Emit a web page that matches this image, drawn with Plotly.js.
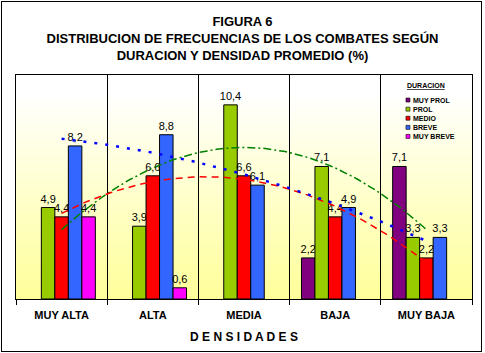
<!DOCTYPE html>
<html>
<head>
<meta charset="utf-8">
<script src="https://cdn.plot.ly/plotly-3.0.1.min.js"></script>
<style>
  html, body { margin: 0; padding: 0; background: #fff; }
  #wrap { position: relative; width: 485px; height: 353px; }
  #chart { position: absolute; left: 0; top: 0; width: 485px; height: 353px; }
  #frame { position: absolute; left: 1px; top: 1px; width: 481px; height: 351px;
           box-sizing: border-box; border: 1px solid #000; pointer-events: none; }
</style>
</head>
<body>
<div id="wrap"><div id="chart"></div><div id="frame"></div></div>
<script>
// ---- data ----
const categories = ['MUY ALTA', 'ALTA', 'MEDIA', 'BAJA', 'MUY BAJA'];
const seriesNames = ['MUY PROL', 'PROL', 'MEDIO', 'BREVE', 'MUY BREVE'];
const muyProl  = [null, null, null, 2.2, 7.1];
const prol     = [4.9, 3.9, 10.4, 7.1, 3.3];
const medio    = [4.4, 6.6, 6.6, 4.4, 2.2];
const breve    = [8.2, 8.8, 6.1, 4.9, 3.3];
const muyBreve = [4.4, 0.6, null, null, null];
const seriesValues = [muyProl, prol, medio, breve, muyBreve];
const seriesColors = ['#800080', '#99CC00', '#FF0000', '#3366FF', '#FF00FF'];
const legendTitle = 'DURACION';
const chartTitle = 'FIGURA 6<br>DISTRIBUCION DE FRECUENCIAS DE LOS COMBATES SEGÚN<br>DURACION Y DENSIDAD PROMEDIO (%)';
const xTitle = 'D E N S I D A D E S';

// polynomial (order 2) trendlines, as in the original spreadsheet chart
const trendSeries = [
  { values: prol,  color: '#008000', dash: '8px,3px,2px,3px', width: 1.5 },
  { values: medio, color: '#FF0000', dash: '7px,5px', width: 1.5 },
  { values: breve, color: '#0000FF', dash: '3px,8px', width: 2.5 }
];

const xs = categories.map((_, i) => i);

function quadFit(x, y) {
  // least squares y = a + b x + c x^2
  const S = [[0,0,0],[0,0,0],[0,0,0]], T = [0,0,0];
  for (let i = 0; i < x.length; i++) {
    if (y[i] == null) continue;
    const p = [1, x[i], x[i]*x[i]];
    for (let r = 0; r < 3; r++) {
      T[r] += p[r]*y[i];
      for (let c = 0; c < 3; c++) S[r][c] += p[r]*p[c];
    }
  }
  const M = S.map((row, r) => row.concat([T[r]]));
  for (let k = 0; k < 3; k++) {
    let piv = k;
    for (let r = k+1; r < 3; r++) if (Math.abs(M[r][k]) > Math.abs(M[piv][k])) piv = r;
    [M[k], M[piv]] = [M[piv], M[k]];
    for (let r = k+1; r < 3; r++) {
      const f = M[r][k]/M[k][k];
      for (let c = k; c < 4; c++) M[r][c] -= f*M[k][c];
    }
  }
  const sol = [0,0,0];
  for (let r = 2; r >= 0; r--) {
    let s = M[r][3];
    for (let c = r+1; c < 3; c++) s -= M[r][c]*sol[c];
    sol[r] = s/M[r][r];
  }
  return sol;
}

const traces = [];
seriesValues.forEach((vals, k) => {
  traces.push({
    type: 'bar',
    name: seriesNames[k],
    x: xs,
    y: vals,
    marker: { color: seriesColors[k], line: { color: '#000', width: 1 } },
    texttemplate: vals.map(v => v == null ? '' : '%{y:.1f}'),
    textposition: 'outside',
    constraintext: 'none',
    cliponaxis: false,
    textfont: { family: 'Liberation Sans, Arial, sans-serif', size: 11, color: '#000' },
    hoverinfo: 'skip',
    showlegend: false
  });
});

trendSeries.forEach(t => {
  const [a, b, c] = quadFit(xs, t.values);
  const tx = [], ty = [];
  const n = 80;
  for (let i = 0; i <= n; i++) {
    const x = xs[0] + (xs[xs.length-1] - xs[0]) * i / n;
    tx.push(x); ty.push(a + b*x + c*x*x);
  }
  traces.push({
    type: 'scatter', mode: 'lines', x: tx, y: ty,
    line: { color: t.color, dash: t.dash, width: t.width },
    hoverinfo: 'skip', showlegend: false
  });
});

// background gradient (white to light yellow)
const svg = '<svg xmlns="http://www.w3.org/2000/svg" width="100" height="100" preserveAspectRatio="none">' +
  '<defs><linearGradient id="g" x1="0" y1="0" x2="0" y2="1">' +
  '<stop offset="0" stop-color="#FFFFFF"/><stop offset="0.08" stop-color="#FFFFFF"/>' +
  '<stop offset="1" stop-color="#FFFF99"/></linearGradient></defs>' +
  '<rect width="100" height="100" fill="url(#g)"/></svg>';
const bgSrc = 'data:image/svg+xml;base64,' + btoa(svg);

const boundaries = categories.map((_, i) => i - 0.5).concat([categories.length - 0.5]);

// compact legend (title + item labels as text, colour swatches beside them)
const legFontSize = 7;
const legLine = 1.3 * legFontSize;
const legX = 0.853, legTextX = 0.866, legY = 0.807;
const legFont = { family: 'Liberation Sans, Arial, sans-serif', size: legFontSize, color: '#000', weight: 'bold' };
const annotations = [
  { xref: 'paper', yref: 'paper', x: legX, y: 0.951, xanchor: 'left', yanchor: 'middle',
    text: '<u>' + legendTitle + '</u>', showarrow: false, font: legFont },
  { xref: 'paper', yref: 'paper', x: legTextX, y: legY, xanchor: 'left', yanchor: 'middle',
    align: 'left', text: seriesNames.join('<br>'), showarrow: false, font: legFont }
];
const mid = (seriesNames.length - 1) / 2;
const shapes = seriesNames.map((nm, k) => {
  const off = (mid - k) * legLine;
  return {
    type: 'rect', xref: 'paper', yref: 'paper', xsizemode: 'pixel', ysizemode: 'pixel',
    xanchor: legX, yanchor: legY, x0: 1, x1: 5, y0: off - 2, y1: off + 2,
    fillcolor: seriesColors[k], line: { color: '#000', width: 0.6 }, layer: 'above'
  };
});

const layout = {
  width: 485, height: 353,
  margin: { l: 16, r: 13, t: 75, b: 54 },
  paper_bgcolor: '#FFFFFF',
  plot_bgcolor: 'rgba(0,0,0,0)',
  separators: ',.',
  barmode: 'group',
  bargap: 0.26,
  bargroupgap: 0,
  title: {
    text: chartTitle,
    x: 0.5, xref: 'container', xanchor: 'center',
    y: 1 - 26/353, yref: 'container', yanchor: 'top',
    font: { family: 'Liberation Sans, Arial, sans-serif', size: 13, color: '#000', weight: 'bold' }
  },
  xaxis: {
    range: [-0.5, categories.length - 0.5],
    tickmode: 'array', tickvals: xs, ticktext: categories,
    ticks: '', showgrid: false, zeroline: false,
    showline: true, mirror: true, linecolor: '#000', linewidth: 1,
    tickfont: { family: 'Liberation Sans, Arial, sans-serif', size: 11, color: '#000', weight: 'bold' },
    ticklabelstandoff: 6,
    minor: { tickmode: 'array', tickvals: boundaries, ticks: 'outside', ticklen: 5,
             tickcolor: '#000', tickwidth: 1, showgrid: true, gridcolor: '#000', gridwidth: 1 },
    title: { text: xTitle, standoff: 12,
             font: { family: 'Liberation Sans, Arial, sans-serif', size: 12, color: '#000', weight: 'bold' } },
    fixedrange: true
  },
  yaxis: {
    range: [0, 12], showticklabels: false, ticks: '', showgrid: false, zeroline: false,
    showline: true, mirror: true, linecolor: '#000', linewidth: 1, fixedrange: true
  },
  images: [{ source: bgSrc, xref: 'paper', yref: 'paper', x: 0, y: 1, sizex: 1, sizey: 1,
             xanchor: 'left', yanchor: 'top', sizing: 'stretch', layer: 'below' }],
  annotations: annotations,
  shapes: shapes
};

Plotly.newPlot('chart', traces, layout, { displayModeBar: false, staticPlot: true });
</script>
</body>
</html>
